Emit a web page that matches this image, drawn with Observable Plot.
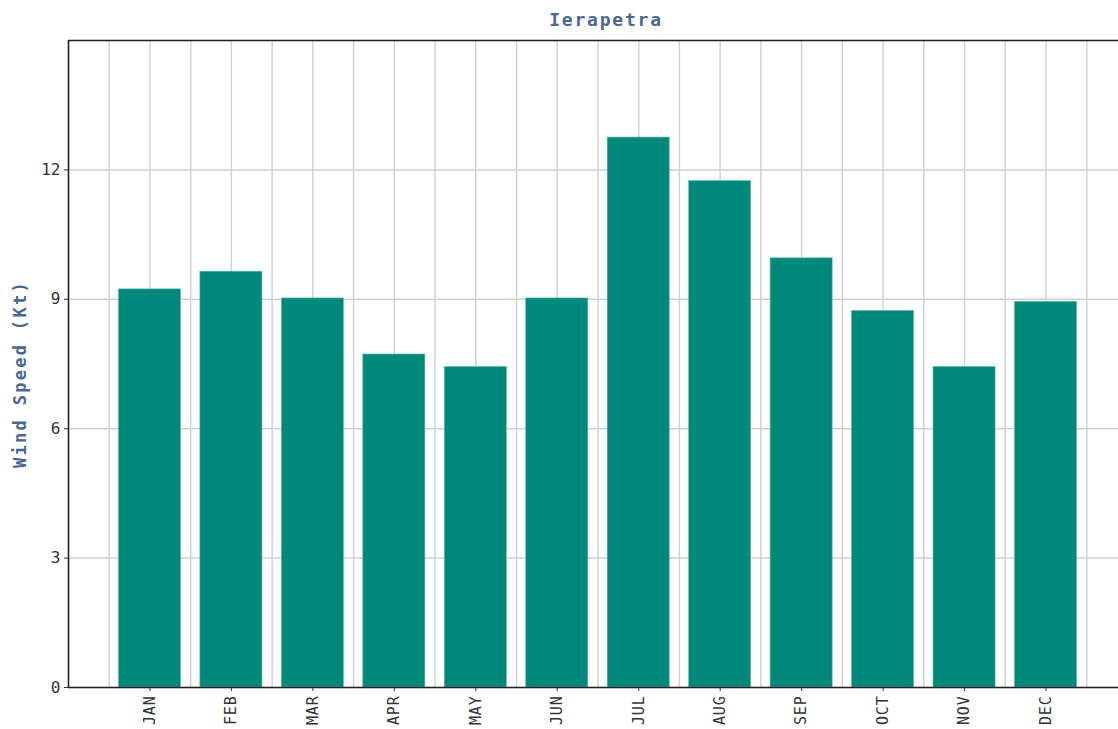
<!DOCTYPE html>
<html>
<head>
<meta charset="utf-8">
<script src="https://cdn.jsdelivr.net/npm/d3@7"></script>
<script src="https://cdn.jsdelivr.net/npm/@observablehq/plot@0.6"></script>
<style>
  html, body { margin: 0; padding: 0; background: #fff; overflow: hidden; }
  #title { position: relative; height: 34px; width: 1118px; }
  #title span { position: absolute; left: 606px; top: 9px; transform: translateX(-50%);
    font-family: "DejaVu Sans Mono", monospace; font-weight: bold; font-size: 18px; letter-spacing: 1.8px; color: #4a6790; }
  svg { display: block; }
  .ylab text { letter-spacing: 2.3px; }
  .xax text { letter-spacing: 0.8px; }
</style>
</head>
<body>
<div id="title"><span>Ierapetra</span></div>
<div id="chart"></div>
<script>
const months = ["JAN","FEB","MAR","APR","MAY","JUN","JUL","AUG","SEP","OCT","NOV","DEC"];
const windSpeed = [9.23, 9.64, 9.02, 7.72, 7.43, 9.02, 12.75, 11.74, 9.95, 8.73, 7.43, 8.94];
const yTicks = [0, 3, 6, 9, 12];
const yLabel = "Wind Speed (Kt)";

const data = months.map((m, i) => ({month: m, pos: i + 1, value: windSpeed[i]}));
const xGrid = d3.range(0.5, 12.51, 0.5);

const chart = Plot.plot({
  width: 1118,
  height: 695,
  marginTop: 6,
  marginBottom: 42,
  marginLeft: 68,
  marginRight: 0,
  style: {fontFamily: "'DejaVu Sans Mono', monospace", fontSize: "15px", color: "#333"},
  x: {domain: [0, 12.89], ticks: d3.range(1, 13), tickFormat: d => months[d - 1]},
  y: {domain: [0, 15], ticks: yTicks},
  marks: [
    Plot.gridY(yTicks, {stroke: "#d2d2d2", strokeOpacity: 1, strokeWidth: 1.5}),
    Plot.ruleX(xGrid, {stroke: "#d2d2d2", strokeWidth: 1.5}),
    Plot.rectY(data, {x1: d => d.pos - 0.5, x2: d => d.pos + 0.5, y: "value", insetLeft: 9.7, insetRight: 9.7,
      fill: "#00897b", stroke: "#5fb8ad", strokeWidth: 0.6}),
    Plot.axisX({ticks: d3.range(1, 13), tickFormat: d => months[d - 1], tickRotate: -90, tickSize: 4, tickPadding: 4,
      label: null, fontSize: 15, className: "xax"}),
    Plot.axisY({ticks: yTicks, tickSize: 4, tickPadding: 4, label: null, fontSize: 16}),
    Plot.text([yLabel], {frameAnchor: "left", textAnchor: "middle", dx: -48, dy: 10, rotate: -90, fill: "#4a6790",
      fontWeight: "bold", fontSize: 17, fontFamily: "'DejaVu Sans Mono', monospace", className: "ylab"}),
    Plot.ruleY([0, 15], {stroke: "#222", strokeWidth: 1.6}),
    Plot.ruleX([0], {stroke: "#222", strokeWidth: 1.6})
  ]
});
document.getElementById("chart").appendChild(chart);
</script>
</body>
</html>
